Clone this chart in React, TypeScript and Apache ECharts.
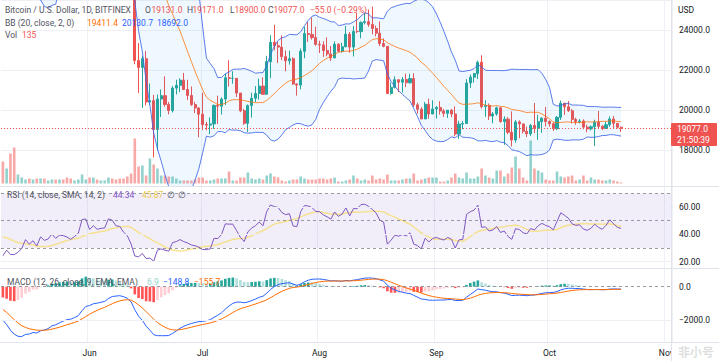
import React, { useEffect, useRef } from "react";
import * as echarts from "echarts";

// ---------- data (BTC/USD daily, Bitfinex) ----------
const startDay = [2022, 4, 9]; // 9 May 2022 (month is 0-based)
const axisSlots = 178; // days shown on the time axis, incl. empty space on the right
const monthNames = ["Jan", "Feb", "Mar", "Apr", "May", "Jun", "Jul", "Aug", "Sep", "Oct", "Nov", "Dec"];

// closes before the visible window (1 Mar – 8 May), only used to warm up the indicators
const warmupCloses = [
  44400, 43900, 42450, 39150, 39400, 38400, 38000, 38750, 41950, 39450, 38800, 38900, 37800, 39700, 39300, 41150,
  40950, 41800, 42200, 41250, 41050, 42350, 42900, 44000, 44350, 44550, 46850, 47100, 47450, 47100, 45550,
  46300, 45850, 46450, 46600, 45500, 43200, 43450, 42250, 42750, 42150, 39500, 40100, 41150, 39950, 40550,
  40400, 39700, 40800, 41500, 41350, 40500, 39700, 39450, 39450, 40450, 38100, 39250, 39750, 38600, 37650,
  38450, 38500, 37700, 39700, 36550, 36000, 35450, 34050,
];

const firstOpen = 34060;

const closes = [
  // May 9 – 31
  30080, 31000, 29030, 28950, 29300, 29880, 31310, 29860, 30430, 28700, 30300, 29190, 29430, 30290, 29110, 29650,
  29540, 29200, 28630, 29030, 29460, 31730, 31800,
  // Jun
  29800, 30450, 29700, 29860, 29910, 31370, 31140, 30200, 30110, 29090, 28420, 26580, 22490, 22140, 22580, 20400,
  20470, 19020, 20550, 20720, 20280, 19970, 21100, 21240, 21500, 21030, 20730, 20270, 20100, 19790,
  // Jul
  19270, 19240, 19300, 20230, 20190, 20550, 21620, 21590, 21590, 20850, 19960, 19330, 20220, 20590, 20830, 21200,
  20790, 22430, 23400, 23230, 23160, 22680, 22470, 22580, 21310, 21250, 22950, 23840, 23800, 23640, 23300,
  // Aug
  23270, 22990, 22820, 22620, 23310, 22950, 23180, 23810, 23160, 23950, 23940, 24400, 24440, 24300, 24100, 23860,
  23340, 23200, 20830, 21140, 21520, 21400, 21530, 21370, 21580, 20260, 20040, 19550, 20290, 19800, 20050,
  // Sep
  20130, 19950, 19830, 19990, 19800, 18790, 19290, 19320, 21360, 21650, 21830, 22400, 20170, 20230, 19700, 19800,
  20110, 19420, 19540, 18880, 18490, 19400, 19300, 18930, 18800, 19220, 19080, 19410, 19590, 19420,
  // Oct 1 – 20
  19310, 19060, 19630, 20340, 20160, 19960, 19530, 19420, 19450, 19140, 19050, 19160, 19380, 19180, 19070, 19260,
  19550, 19330, 19131, 19077,
];

const highs = [
  34240, 32640, 32190, 30030, 30990, 30280, 31330, 31310, 30770, 30670, 30530, 30740, 29620, 30430, 30660, 29820,
  30200, 29840, 29360, 29210, 29550, 32170, 32300,
  31960, 30640, 30660, 29920, 30130, 31700, 31540, 31310, 30660, 30370, 29430, 28550, 26900, 23360, 22720, 22970,
  21330, 20760, 20780, 21030, 21690, 20400, 21200, 21520, 21590, 21860, 21520, 21180, 20410, 20140,
  20870, 19400, 19630, 20280, 20720, 20640, 21820, 22500, 21950, 21600, 20860, 20050, 20280, 20870, 21200, 21570,
  21640, 22720, 23760, 24280, 23430, 23750, 22990, 22980, 22650, 21340, 23090, 24180, 24420, 24640, 24190,
  23480, 23450, 23650, 23220, 23450, 23350, 23380, 24230, 23920, 24220, 24890, 24450, 24880, 25050, 25200, 24240,
  24450, 23600, 23200, 21380, 21690, 21530, 21660, 21830, 21820, 21850, 20370, 20140, 20400, 20570, 20490,
  20200, 20440, 20050, 20000, 20050, 20180, 19460, 19450, 21550, 21780, 21860, 22480, 22750, 20490, 20330, 19900,
  20170, 20120, 19680, 19640, 19930, 19490, 19480, 19320, 19170, 19300, 20350, 19760, 19630, 20150,
  19480, 19390, 19700, 20470, 20360, 20450, 20050, 19610, 19540, 19530, 19260, 19220, 19510, 19950, 19230, 19410,
  19680, 19700, 19350, 19171,
];

const lows = [
  30030, 29740, 27700, 26560, 28730, 28620, 29490, 29110, 29460, 28670, 28700, 28750, 28950, 29250, 28900, 28320,
  29400, 28020, 28280, 28550, 28880, 29300, 31240,
  29370, 29600, 29320, 29500, 29490, 29890, 29240, 29860, 29960, 28880, 28180, 26560, 22300, 20850, 20110, 20230,
  20250, 17620, 17960, 19650, 20160, 19780, 19880, 20780, 20900, 21000, 20510, 20200, 19850, 18630,
  19000, 18980, 18780, 19050, 19300, 19770, 20250, 21180, 21320, 20660, 19890, 19250, 18900, 19620, 20400, 20520,
  20760, 20760, 21600, 23000, 22360, 22500, 21950, 22280, 21260, 20720, 21040, 22600, 23420, 23540, 23230,
  22860, 22670, 22700, 22460, 22590, 22900, 22880, 23150, 22880, 22690, 23860, 23600, 24300, 24180, 23800, 23700,
  23220, 23150, 20800, 20770, 21080, 20900, 20880, 21150, 21330, 20150, 19820, 19540, 19550, 19560, 19800,
  19570, 19770, 19650, 19600, 19640, 18680, 18550, 19030, 19310, 21110, 21370, 21560, 20070, 19660, 19500, 19330,
  19710, 19360, 18250, 18790, 18170, 18360, 18580, 18820, 18640, 18700, 18840, 18500, 18860, 19170,
  19160, 18950, 19000, 19500, 19750, 19900, 19330, 19260, 19330, 19030, 18880, 18980, 18190, 19080, 18990, 19050,
  19160, 19100, 19070, 18900,
];

const volumes = [
  2860, 1950, 3900, 4680, 1170, 780, 520, 650, 520, 650, 650, 650, 390, 520, 520, 520, 520, 780, 650, 390, 520,
  1170, 520,
  780, 780, 520, 390, 390, 780, 650, 520, 650, 650, 910, 1300, 5850, 2210, 2340, 1040, 3250, 2470, 1950, 1040,
  1040, 910, 910, 650, 390, 390, 390, 390, 520, 780,
  780, 390, 390, 520, 650, 650, 650, 1560, 390, 390, 780, 780, 1430, 650, 520, 650, 520, 1040, 1300, 910, 780,
  390, 260, 390, 520, 520, 910, 650, 520, 520, 520,
  650, 650, 520, 650, 780, 260, 260, 390, 520, 1040, 650, 390, 520, 390, 1040, 520, 650, 520, 1170, 390, 390,
  390, 520, 650, 650, 1300, 390, 520, 650, 780, 780,
  780, 260, 260, 390, 780, 1300, 780, 650, 1430, 650, 650, 910, 1950, 1040, 780, 650, 1690, 1690, 910, 1300,
  2080, 3510, 1950, 780, 390, 5590, 1950, 1690, 1430, 520,
  390, 390, 1560, 910, 780, 910, 1040, 390, 520, 1040, 390, 780, 520, 520, 390, 390, 520, 390, 260, 135,
];

const priceAxisRange = [16180, 25528];
const rsiAxisRange = [15.4, 74.6];
const macdAxisRange = [-3321, 1123];
const rsiTickLabels = [20, 40, 60];
const rsiBandLevels = [70, 50, 30];
const macdTickLabels = [0, -2000];
const lastPrice = 19077;

// ---------- indicator helpers (computed from the closes above) ----------
function ema(src: number[], n: number): number[] {
  const k = 2 / (n + 1);
  const out: number[] = [];
  let prev = src[0];
  for (let i = 0; i < src.length; i++) {
    prev = i === 0 ? src[0] : src[i] * k + prev * (1 - k);
    out.push(prev);
  }
  return out;
}

function rsi(src: number[], n: number): number[] {
  const out: number[] = new Array(src.length).fill(NaN);
  let ag = 0;
  let al = 0;
  for (let i = 1; i < src.length; i++) {
    const d = src[i] - src[i - 1];
    const g = Math.max(d, 0);
    const l = Math.max(-d, 0);
    if (i <= n) {
      ag += g / n;
      al += l / n;
      if (i === n) out[i] = al === 0 ? 100 : 100 - 100 / (1 + ag / al);
    } else {
      ag = (ag * (n - 1) + g) / n;
      al = (al * (n - 1) + l) / n;
      out[i] = al === 0 ? 100 : 100 - 100 / (1 + ag / al);
    }
  }
  return out;
}

function buildOption() {
  const W = warmupCloses.length;
  const all = [...warmupCloses, ...closes];
  const opens = [firstOpen, ...closes.slice(0, -1)];
  const n = closes.length;

  const dates: string[] = [];
  for (let i = 0; i < axisSlots; i++) {
    const d = new Date(Date.UTC(startDay[0], startDay[1], startDay[2] + i));
    dates.push(d.toISOString().slice(0, 10));
  }
  const isMonthStart = (_i: number, v: string) => v.endsWith("-01");

  // Bollinger bands (20, 2)
  const bbMid: number[] = [];
  const bbUp: number[] = [];
  const bbLow: number[] = [];
  for (let i = 0; i < n; i++) {
    const j = W + i;
    const win = all.slice(j - 19, j + 1);
    const m = win.reduce((a, b) => a + b, 0) / 20;
    const sd = Math.sqrt(win.reduce((a, b) => a + (b - m) * (b - m), 0) / 20);
    bbMid.push(m);
    bbUp.push(m + 2 * sd);
    bbLow.push(m - 2 * sd);
  }

  // RSI 14 + SMA 14
  const rsiAll = rsi(all, 14);
  const rsiVis: number[] = [];
  const rsiMa: number[] = [];
  for (let i = 0; i < n; i++) {
    const j = W + i;
    rsiVis.push(rsiAll[j]);
    const win = rsiAll.slice(j - 13, j + 1);
    rsiMa.push(win.reduce((a, b) => a + b, 0) / 14);
  }

  // MACD 12/26/9
  const e12 = ema(all, 12);
  const e26 = ema(all, 26);
  const macdAll = e12.map((v, i) => v - e26[i]);
  const sigAll = ema(macdAll, 9);
  const histAll = macdAll.map((v, i) => v - sigAll[i]);
  const macdVis = macdAll.slice(W);
  const sigVis = sigAll.slice(W);
  const histVis = histAll.slice(W).map((h, i) => {
    const prev = histAll[W + i - 1];
    const color = h >= 0 ? (h > prev ? "#26a69a" : "#b2dfdb") : h > prev ? "#ffcdd2" : "#ff5252";
    return { value: h, itemStyle: { color } };
  });

  const candleData = closes.map((c, i) => [opens[i], c, lows[i], highs[i]]);
  const volData = volumes.map((v, i) => ({
    value: v,
    itemStyle: { color: closes[i] >= opens[i] ? "rgba(38,166,154,0.5)" : "rgba(239,83,80,0.5)" },
  }));

  const FONT = "Roboto, 'Noto Sans', sans-serif";
  const FS = 8.5;
  const grey = "#50535e";
  const gridLine = "#eef0f5";
  const bandBlue = "#3f65e6";

  const grids = [
    { left: 1, top: 0, width: 671, height: 186 },
    { left: 1, top: 123.5, width: 671, height: 60 },
    { left: 1, top: 187, width: 671, height: 81 },
    { left: 1, top: 268, width: 671, height: 74 },
  ];

  const xAxis = grids.map((_, g) => ({
    type: "category",
    gridIndex: g,
    data: dates,
    boundaryGap: true,
    axisLine: { show: false },
    axisTick: { show: false },
    axisLabel:
      g === 3
        ? {
            show: true,
            interval: isMonthStart,
            formatter: (v: string) => monthNames[Number(v.slice(5, 7)) - 1],
            color: "#131722",
            fontSize: FS,
            fontFamily: FONT,
            margin: 6,
          }
        : { show: false },
    splitLine: g === 1 ? { show: false } : { show: true, interval: isMonthStart, lineStyle: { color: gridLine, width: 1 } },
  }));

  const axisLabelBase = { color: "#131722", fontSize: FS, fontFamily: FONT, margin: 7, showMinLabel: false, showMaxLabel: false };

  const yAxis = [
    {
      type: "value",
      gridIndex: 0,
      position: "right",
      min: priceAxisRange[0],
      max: priceAxisRange[1],
      splitNumber: 5,
      axisLine: { show: false },
      axisTick: { show: false },
      axisLabel: { ...axisLabelBase, formatter: (v: number) => v.toFixed(1) },
      splitLine: { show: true, lineStyle: { color: gridLine } },
    },
    { type: "value", gridIndex: 1, min: 0, max: 7800, show: false },
    {
      type: "value",
      gridIndex: 2,
      position: "right",
      min: rsiAxisRange[0],
      max: rsiAxisRange[1],
      splitNumber: 5,
      axisLine: { show: false },
      axisTick: { show: false },
      axisLabel: {
        ...axisLabelBase,
        formatter: (v: number) => (rsiTickLabels.some((t) => Math.abs(t - v) < 1e-6) ? v.toFixed(2) : ""),
      },
      splitLine: { show: false },
    },
    {
      type: "value",
      gridIndex: 3,
      position: "right",
      min: macdAxisRange[0],
      max: macdAxisRange[1],
      splitNumber: 5,
      axisLine: { show: false },
      axisTick: { show: false },
      axisLabel: {
        ...axisLabelBase,
        formatter: (v: number) =>
          macdTickLabels.some((t) => Math.abs(t - v) < 1e-6) ? (v < 0 ? "\u2212" + Math.abs(v).toFixed(1) : v.toFixed(1)) : "",
      },
      splitLine: { show: false },
    },
  ];

  const lineBase = { type: "line", showSymbol: false, symbol: "none", silent: true, smooth: false };
  const dashed = { color: "rgba(120,123,134,0.75)", type: [3, 3], width: 1 };

  const series: any[] = [
    // volume
    { type: "bar", xAxisIndex: 1, yAxisIndex: 1, data: volData, barWidth: 2.6, silent: true },
    // BB fill
    { ...lineBase, xAxisIndex: 0, yAxisIndex: 0, data: bbLow, stack: "bb", lineStyle: { opacity: 0 } },
    {
      ...lineBase,
      xAxisIndex: 0,
      yAxisIndex: 0,
      data: bbUp.map((u, i) => u - bbLow[i]),
      stack: "bb",
      lineStyle: { opacity: 0 },
      areaStyle: { color: "rgba(33,150,243,0.1)" },
    },
    { ...lineBase, xAxisIndex: 0, yAxisIndex: 0, data: bbUp, lineStyle: { color: bandBlue, width: 1, opacity: 0.85 } },
    { ...lineBase, xAxisIndex: 0, yAxisIndex: 0, data: bbLow, lineStyle: { color: bandBlue, width: 1, opacity: 0.85 } },
    { ...lineBase, xAxisIndex: 0, yAxisIndex: 0, data: bbMid, lineStyle: { color: "#ff6d00", width: 1, opacity: 0.75 } },
    // candles
    {
      type: "candlestick",
      xAxisIndex: 0,
      yAxisIndex: 0,
      data: candleData,
      barWidth: 2.6,
      silent: true,
      itemStyle: { color: "#26a69a", color0: "#ef5350", borderColor: "#26a69a", borderColor0: "#ef5350", borderWidth: 1 },
      markLine: {
        silent: true,
        symbol: "none",
        label: { show: false },
        lineStyle: { color: "#ef5350", type: [1, 2], width: 1 },
        data: [{ yAxis: lastPrice }],
      },
    },
    // RSI
    {
      ...lineBase,
      xAxisIndex: 2,
      yAxisIndex: 2,
      data: rsiMa,
      lineStyle: { color: "#f6df84", width: 1.5, opacity: 0.9 },
      markArea: {
        silent: true,
        itemStyle: { color: "rgba(126,87,194,0.1)" },
        data: [[{ yAxis: rsiBandLevels[2] }, { yAxis: rsiBandLevels[0] }]],
      },
      markLine: {
        silent: true,
        symbol: "none",
        label: { show: false },
        data: [
          ...rsiBandLevels.map((v) => ({ yAxis: v, lineStyle: dashed })),
          ...rsiTickLabels
            .filter((v) => !rsiBandLevels.includes(v))
            .map((v) => ({ yAxis: v, lineStyle: { color: gridLine, type: "solid", width: 1 } })),
        ],
      },
    },
    { ...lineBase, xAxisIndex: 2, yAxisIndex: 2, data: rsiVis, lineStyle: { color: "#7e57c2", width: 1 } },
    // MACD
    {
      type: "bar",
      xAxisIndex: 3,
      yAxisIndex: 3,
      data: histVis,
      barWidth: 2.6,
      silent: true,
      markLine: {
        silent: true,
        symbol: "none",
        label: { show: false },
        data: [
          { yAxis: 0, lineStyle: dashed },
          { yAxis: -2000, lineStyle: { color: gridLine, type: "solid", width: 1 } },
        ],
      },
    },
    { ...lineBase, xAxisIndex: 3, yAxisIndex: 3, data: macdVis, lineStyle: { color: "#2962ff", width: 1 } },
    { ...lineBase, xAxisIndex: 3, yAxisIndex: 3, data: sigVis, lineStyle: { color: "#ff6d00", width: 1 } },
  ];

  const txt = (text: string, x: number, y: number, fill: string, extra: any = {}) => ({
    type: "text",
    x,
    y,
    silent: true,
    z: 50,
    style: { text, fill, fontSize: FS, fontFamily: FONT, verticalAlign: "middle", align: "left", ...extra },
  });

  const red = "#ef5350";
  const sep = "#e0e3eb";
  const graphic = [
    { type: "line", silent: true, z: 40, shape: { x1: 0, y1: 186.5, x2: 719, y2: 186.5 }, style: { stroke: sep, lineWidth: 1 } },
    { type: "line", silent: true, z: 40, shape: { x1: 0, y1: 268.5, x2: 719, y2: 268.5 }, style: { stroke: sep, lineWidth: 1 } },
    { type: "rect", silent: true, z: 45, shape: { x: 672, y: 343, width: 47, height: 18 }, style: { fill: "#ffffff" } },
    { type: "line", silent: true, z: 46, shape: { x1: 0, y1: 342.5, x2: 719, y2: 342.5 }, style: { stroke: sep, lineWidth: 1 } },
    { type: "line", silent: true, z: 46, shape: { x1: 671.5, y1: 0, x2: 671.5, y2: 361 }, style: { stroke: sep, lineWidth: 1 } },
    // legends
    txt("Bitcoin / U.S. Dollar, 1D, BITFINEX", 5, 9.5, grey),
    txt("O", 145, 9.5, grey),
    txt("19131.0", 151.5, 9.5, red),
    txt("H", 187, 9.5, grey),
    txt("19171.0", 192.5, 9.5, red),
    txt("L", 230, 9.5, grey),
    txt("18900.0", 234.5, 9.5, red),
    txt("C", 268, 9.5, grey),
    txt("19077.0", 273.5, 9.5, red),
    txt("\u221255.0 (\u22120.29%)", 310, 9.5, red),
    txt("BB (20, close, 2, 0)", 5, 22.5, grey),
    txt("19411.4", 87, 22.5, "#ff6d00"),
    txt("20130.7", 122, 22.5, "#2962ff"),
    txt("18692.0", 157, 22.5, "#2962ff"),
    txt("Vol", 5, 34.5, grey),
    txt("135", 22, 34.5, red),
    txt("RSI (14, close, SMA, 14, 2)", 7, 195, grey),
    txt("44.34", 113, 195, "#7e57c2"),
    txt("45.87", 142, 195, "#e8c84a"),
    txt("\u2205", 167, 195, grey),
    txt("\u2205", 178, 195, grey),
    txt("MACD (12, 26, close, 9, EMA, EMA)", 7, 282, grey),
    txt("6.9", 147, 282, "#8fd3cb"),
    txt("\u2212148.8", 163, 282, "#2962ff"),
    txt("\u2212155.7", 194, 282, "#ff6d00"),
    // price scale extras
    txt("USD", 678, 9.5, "#131722"),
    { type: "rect", silent: true, z: 48, shape: { x: 671, y: 123, width: 46, height: 23, r: 1 }, style: { fill: red } },
    txt("19077.0", 677, 128.5, "#ffffff"),
    txt("21:50:39", 677, 139.5, "#ffffff"),
    // watermark
    txt("\u975e\u5c0f\u53f7", 678, 351, "rgba(120,120,120,0.25)", {
      fontSize: 12,
      fontFamily: "'Noto Sans CJK SC', sans-serif",
      fontWeight: "bold",
    }),
  ];

  return {
    animation: false,
    backgroundColor: "#ffffff",
    grid: grids,
    xAxis,
    yAxis,
    series,
    graphic,
  };
}

export default function App() {
  const ref = useRef<HTMLDivElement>(null);
  useEffect(() => {
    if (!ref.current) return;
    const chart = echarts.init(ref.current, null, { renderer: "svg" });
    chart.setOption(buildOption() as any);
    return () => chart.dispose();
  }, []);
  return (
    <div
      ref={ref}
      style={{ position: "fixed", left: 0, top: 0, width: 719, height: 361, background: "#ffffff" }}
    />
  );
}
